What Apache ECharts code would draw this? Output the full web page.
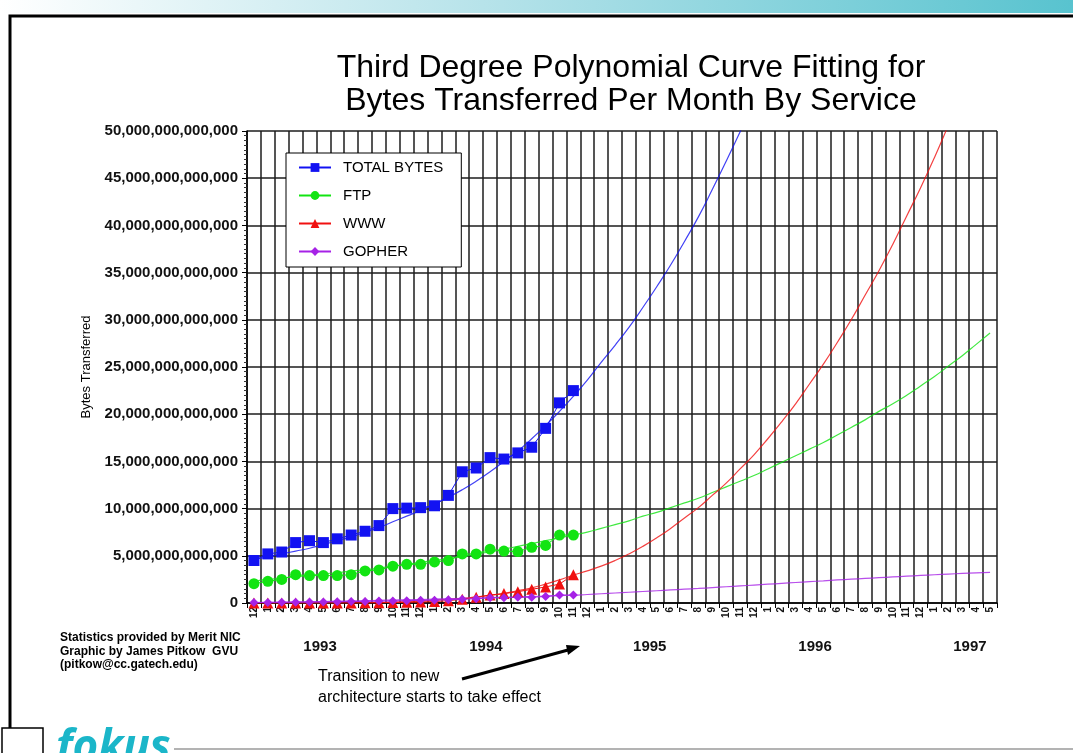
<!DOCTYPE html>
<html>
<head>
<meta charset="utf-8">
<title>Third Degree Polynomial Curve Fitting for Bytes Transferred Per Month By Service</title>
<script src="https://cdn.jsdelivr.net/npm/echarts@6/dist/echarts.min.js"></script>
<style>
  html, body { margin: 0; padding: 0; background: #fff; }
  #chart { width: 1073px; height: 753px; }
</style>
</head>
<body>
<div id="chart"></div>
<script>
// Months, Dec 1992 .. May 1997 (label text = month number / year)
const months = [
  '12/92',
  '1/93','2/93','3/93','4/93','5/93','6/93','7/93','8/93','9/93','10/93','11/93','12/93',
  '1/94','2/94','3/94','4/94','5/94','6/94','7/94','8/94','9/94','10/94','11/94','12/94',
  '1/95','2/95','3/95','4/95','5/95','6/95','7/95','8/95','9/95','10/95','11/95','12/95',
  '1/96','2/96','3/96','4/96','5/96','6/96','7/96','8/96','9/96','10/96','11/96','12/96',
  '1/97','2/97','3/97','4/97','5/97'
];
const yearLabels = ['1993', '1994', '1995', '1996', '1997'];

// Measured monthly traffic, in units of 10^12 bytes
const totalBytes = [4.5, 5.2, 5.4, 6.4, 6.6, 6.4, 6.8, 7.2, 7.6, 8.2, 10.0, 10.05, 10.1, 10.3, 11.4, 13.9, 14.3, 15.4, 15.25, 15.9, 16.5, 18.5, 21.2, 22.5];
const ftp        = [2.05, 2.3, 2.5, 3.0, 2.9, 2.9, 2.9, 3.0, 3.4, 3.5, 3.9, 4.1, 4.1, 4.35, 4.5, 5.2, 5.2, 5.7, 5.5, 5.45, 5.9, 6.1, 7.2, 7.2];
const www        = [0, 0, 0, 0, 0, 0, 0, 0, 0.02, 0.03, 0.05, 0.07, 0.1, 0.15, 0.25, 0.4, 0.6, 0.85, 1.0, 1.2, 1.45, 1.7, 2.0, 3.0];
const gopher     = [0.05, 0.06, 0.07, 0.08, 0.1, 0.11, 0.13, 0.15, 0.17, 0.2, 0.22, 0.25, 0.28, 0.3, 0.35, 0.4, 0.45, 0.55, 0.55, 0.6, 0.62, 0.68, 0.85, 0.85];

// Third degree polynomial trend lines, extended to May 1997 (10^12 bytes)
const totalFit = [4.6, 4.9, 5.2, 5.5, 5.8, 6.2, 6.6, 7.0, 7.5, 8.0, 8.6, 9.2, 9.8, 10.5, 11.2, 12.0, 12.9, 13.9, 15.0, 16.1, 17.4, 18.8, 20.3, 21.9,
                  23.6, 25.5, 27.3, 29.2, 31.3, 33.5, 35.8, 38.3, 40.9, 43.8, 46.8, 49.9, 53.1];
const ftpFit   = [2.3, 2.5, 2.6, 2.8, 2.9, 3.1, 3.2, 3.4, 3.5, 3.7, 3.9, 4.1, 4.3, 4.5, 4.7, 4.9, 5.2, 5.4, 5.7, 6.0, 6.3, 6.6, 6.9, 7.2,
                  7.5, 7.9, 8.3, 8.7, 9.2, 9.6, 10.1, 10.6, 11.1, 11.7, 12.3, 12.9, 13.5, 14.2, 14.9, 15.6, 16.3, 17.0, 17.8, 18.6,
                  19.4, 20.3, 21.1, 22.0, 23.0, 24.0, 25.1, 26.2, 27.4, 28.6];
const wwwFit   = [0, 0, 0, 0, 0, 0, 0, 0, 0, 0.05, 0.1, 0.15, 0.2, 0.3, 0.4, 0.5, 0.65, 0.8, 1.0, 1.3, 1.6, 2.0, 2.45, 2.95,
                  3.4, 3.9, 4.5, 5.2, 6.0, 6.9, 7.9, 9.0, 10.1, 11.4, 12.7, 14.2, 15.7, 17.4, 19.2, 21.1, 23.2, 25.3, 27.6, 30.0,
                  32.6, 35.2, 38.0, 41.0, 44.0, 47.2, 50.6, 54.0];
const gopherFit = [0.05, 0.07, 0.09, 0.11, 0.13, 0.16, 0.19, 0.22, 0.25, 0.28, 0.31, 0.34, 0.37, 0.41, 0.45, 0.49, 0.53, 0.57, 0.61, 0.65, 0.69, 0.74, 0.78,
                   0.82, 0.9, 0.98, 1.06, 1.14, 1.22, 1.3, 1.38, 1.46, 1.54, 1.63, 1.72, 1.81, 1.9, 1.99, 2.08, 2.17, 2.26, 2.35, 2.44,
                   2.52, 2.6, 2.68, 2.76, 2.84, 2.92, 2.99, 3.06, 3.13, 3.19, 3.25];

const FONT = '"Liberation Sans", Arial, Helvetica, sans-serif';
const COLORS = { total: '#1212f2', ftp: '#12e412', www: '#f01010', gopher: '#a622e6' };

function fullBytes(v) {
  if (v === 0) return '0';
  return String(Math.round(v * 1e12)).replace(/\B(?=(\d{3})+(?!\d))/g, ',');
}

const yearLabelAt = [5.26, 17.2, 29.0, 40.9, 52.05];

function dataSeries(name, data, color, symbol, size) {
  return {
    name, type: 'line', data,
    symbol, symbolSize: size, showAllSymbol: true,
    itemStyle: { color },
    lineStyle: { color, width: 1 },
    z: 5
  };
}
function fitSeries(name, data, color) {
  return {
    name: name + ' fit', type: 'line', data,
    symbol: 'none', smooth: true, connectNulls: false,
    lineStyle: { color, width: 1.2, opacity: 0.8 },
    z: 4
  };
}

const chart = echarts.init(document.getElementById('chart'), null, { renderer: 'canvas' });

chart.setOption({
  animation: false,
  backgroundColor: '#ffffff',
  title: {
    text: 'Third Degree Polynomial Curve Fitting for\nBytes Transferred Per Month By Service',
    left: 626, top: 47, textAlign: 'center',
    textStyle: { fontFamily: FONT, fontSize: 32, fontWeight: 'normal', color: '#000', lineHeight: 33 }
  },
  legend: {
    data: ['TOTAL BYTES', 'FTP', 'WWW', 'GOPHER'],
    orient: 'vertical',
    left: 286, top: 153,
    padding: [7, 18, 8, 12],
    itemWidth: 32, itemHeight: 11, itemGap: 13,
    backgroundColor: '#fff', borderColor: '#000', borderWidth: 1, borderRadius: 0,
    textStyle: { fontFamily: FONT, fontSize: 15, color: '#000', padding: [0, 0, 0, 7] }
  },
  grid: { left: 247, right: 76, top: 131, bottom: 150 },
  xAxis: [
    {
      type: 'category', data: months, boundaryGap: true,
      axisLine: { show: true, lineStyle: { color: '#000', width: 1.5 } },
      axisTick: { show: true, interval: 0, length: 5, lineStyle: { color: '#000', width: 1 } },
      axisLabel: {
        interval: 0, rotate: 90, margin: 4,
        fontFamily: FONT, fontSize: 10, fontWeight: 'bold', color: '#111',
        formatter: (c) => c.split('/')[0]
      },
      splitLine: { show: true, interval: 0, lineStyle: { color: '#1c1c1c', width: 1.5 } }
    },
    {
      type: 'value', min: 0, max: months.length, position: 'bottom',
      axisLine: { show: false }, axisTick: { show: false }, splitLine: { show: false },
      axisLabel: {
        customValues: yearLabelAt, margin: 36,
        fontFamily: FONT, fontSize: 15, fontWeight: 'bold', color: '#111',
        formatter: (v) => yearLabels[yearLabelAt.indexOf(v)] || ''
      }
    }
  ],
  yAxis: {
    type: 'value', min: 0, max: 50, interval: 5,
    name: 'Bytes Transferred', nameLocation: 'middle', nameGap: 154,
    nameTextStyle: { fontFamily: FONT, fontSize: 13, color: '#000' },
    axisLine: { show: true, lineStyle: { color: '#000', width: 1.5 } },
    axisTick: { show: true, length: 5, lineStyle: { color: '#000' } },
    minorTick: { show: true, splitNumber: 10, length: 3, lineStyle: { color: '#333' } },
    axisLabel: { margin: 9, fontFamily: FONT, fontSize: 15, fontWeight: 'bold', color: '#111', formatter: fullBytes },
    splitLine: { show: true, lineStyle: { color: '#1c1c1c', width: 1.5 } }
  },
  series: [
    fitSeries('TOTAL BYTES', totalFit, COLORS.total),
    fitSeries('FTP', ftpFit, COLORS.ftp),
    fitSeries('WWW', wwwFit, COLORS.www),
    fitSeries('GOPHER', gopherFit, COLORS.gopher),
    dataSeries('TOTAL BYTES', totalBytes, COLORS.total, 'rect', 11),
    dataSeries('FTP', ftp, COLORS.ftp, 'circle', 11),
    dataSeries('WWW', www, COLORS.www, 'triangle', 11),
    dataSeries('GOPHER', gopher, COLORS.gopher, 'diamond', 9)
  ],
  graphic: [
    // page header band and frame
    { type: 'rect', silent: true, shape: { x: 0, y: 0, width: 1073, height: 13 },
      style: { fill: new echarts.graphic.LinearGradient(0, 0, 1, 0, [
        { offset: 0, color: '#ffffff' }, { offset: 0.45, color: '#b7e3ea' }, { offset: 1, color: '#58c3cf' }]) } },
    { type: 'polyline', silent: true, shape: { points: [[10, 728], [10, 16], [1073, 16]] },
      style: { stroke: '#000', lineWidth: 3, fill: null } },
    { type: 'rect', silent: true, shape: { x: 2, y: 728, width: 41, height: 32 },
      style: { fill: '#fff', stroke: '#000', lineWidth: 1.5 } },
    { type: 'line', silent: true, shape: { x1: 174, y1: 749, x2: 1073, y2: 749 },
      style: { stroke: '#9a9a9a', lineWidth: 1.5 } },
    { type: 'text', silent: true, x: 56, y: 726,
      style: { text: 'fokus', font: 'italic bold 44px "Noto Sans", sans-serif', fill: '#1bb6c9' } },
    // credits
    { type: 'text', silent: true, x: 60, y: 631,
      style: { text: 'Statistics provided by Merit NIC\nGraphic by James Pitkow  GVU\n(pitkow@cc.gatech.edu)',
               font: 'bold 12px ' + FONT, fill: '#000', lineHeight: 13.5 } },
    // annotation
    { type: 'text', silent: true, x: 318, y: 666,
      style: { text: 'Transition to new\narchitecture starts to take effect',
               font: '16px ' + FONT, fill: '#000', lineHeight: 21 } },
    { type: 'line', silent: true, shape: { x1: 462, y1: 679, x2: 568, y2: 650 },
      style: { stroke: '#000', lineWidth: 3 } },
    { type: 'polygon', silent: true, shape: { points: [[580, 646], [566, 645], [568, 655]] },
      style: { fill: '#000' } }
  ]
});
</script>
</body>
</html>
